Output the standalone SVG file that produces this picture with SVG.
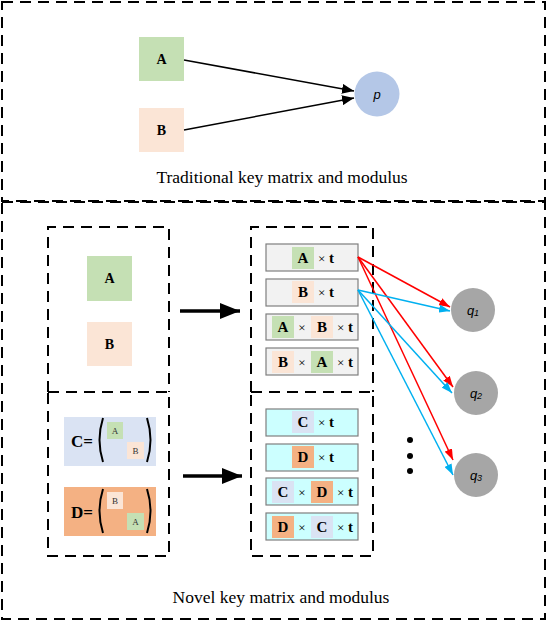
<svg xmlns="http://www.w3.org/2000/svg" width="548" height="622" viewBox="0 0 548 622">
<style>
.outer{fill:none;stroke:#000;stroke-width:2;stroke-dasharray:11,7}
.inner{fill:none;stroke:#000;stroke-width:2;stroke-dasharray:11,7}
.cap{font-family:"Liberation Serif",serif;font-size:17.5px;fill:#000;text-anchor:middle}
.lbl{font-family:"Liberation Serif",serif;font-size:15px;font-weight:bold;fill:#000;text-anchor:middle;dominant-baseline:central}
.sm{font-family:"Liberation Serif",serif;font-size:9px;fill:#333;text-anchor:middle;dominant-baseline:central}
.row{stroke:#7f7f7f;stroke-width:1.2}
.gray{fill:#f2f2f2}
.cyan{fill:#ccffff}
.ca{fill:#c5e0b4}
.cb{fill:#fbe5d6}
.cc{fill:#dae3f3}
.cd{fill:#f4b183}
.mod{font-family:"Liberation Sans",sans-serif;font-style:italic;font-size:13px;fill:#000;text-anchor:middle;dominant-baseline:central}
.sub{font-size:9px}
.blk{stroke:#000;stroke-width:1.5;fill:none}
.thick{stroke:#000;stroke-width:3.5;fill:none}
.red{stroke:#ff0000;stroke-width:1.5;fill:none}
.blue{stroke:#00b0f0;stroke-width:1.5;fill:none}
.times{font-family:"Liberation Serif",serif;font-size:13px;fill:#000;text-anchor:middle;dominant-baseline:central}
</style>
<defs>
<marker id="mBlk" viewBox="0 0 12 10" refX="12" refY="5" markerWidth="12" markerHeight="10" markerUnits="userSpaceOnUse" orient="auto"><path d="M0,0 L12,5 L0,10 Z" fill="#000"/></marker>
<marker id="mThick" viewBox="0 0 20 16" refX="20" refY="8" markerWidth="20" markerHeight="16" markerUnits="userSpaceOnUse" orient="auto"><path d="M0,0 L20,8 L0,16 Z" fill="#000"/></marker>
<marker id="mRed" viewBox="0 0 11 8" refX="11" refY="4" markerWidth="11" markerHeight="8" markerUnits="userSpaceOnUse" orient="auto"><path d="M0,0 L11,4 L0,8 Z" fill="#ff0000"/></marker>
<marker id="mBlue" viewBox="0 0 11 8" refX="11" refY="4" markerWidth="11" markerHeight="8" markerUnits="userSpaceOnUse" orient="auto"><path d="M0,0 L11,4 L0,8 Z" fill="#00b0f0"/></marker>
</defs>
<rect width="548" height="622" fill="#fff"/>

<g id="frame-traditional">
<rect class="outer" x="2" y="2" width="543" height="199"/>
<text class="cap" x="282" y="183">Traditional key matrix and modulus</text>
</g>
<g id="frame-novel">
<rect class="outer" x="2" y="202" width="543" height="417"/>
<text class="cap" x="281" y="603">Novel key matrix and modulus</text>
</g>

<g id="trad-A"><rect class="ca" x="139" y="37" width="45" height="44"/><text class="lbl" x="161.5" y="59" style="font-size:14px">A</text></g>
<g id="trad-B"><rect class="cb" x="139" y="108" width="45" height="44"/><text class="lbl" x="161.5" y="130" style="font-size:14px">B</text></g>
<g id="trad-p"><circle cx="377" cy="94" r="22.5" fill="#b4c7e7"/><text class="mod" x="377" y="94">p</text></g>

<g id="box-AB">
<path class="inner" d="M48,392 V227 H169 V392"/>
<rect class="ca" x="87" y="256" width="45" height="45"/><text class="lbl" x="109.5" y="278.5" style="font-size:14px">A</text>
<rect class="cb" x="87" y="322" width="45" height="44"/><text class="lbl" x="109.5" y="344" style="font-size:14px">B</text>
</g>
<g id="box-CD">
<rect class="inner" x="48" y="392" width="121" height="164"/>
<rect class="cc" x="64" y="417" width="92" height="49"/>
<text class="lbl" x="82" y="441" style="font-size:17px">C=</text>
<path d="M103,418 Q96,440 103,462" fill="none" stroke="#000" stroke-width="2"/>
<path d="M147,418 Q154,440 147,462" fill="none" stroke="#000" stroke-width="2"/>
<rect class="ca" x="107" y="422" width="16" height="17"/><text class="sm" x="115" y="430.5">A</text>
<rect class="cb" x="127" y="442" width="17" height="17"/><text class="sm" x="135.5" y="450.5">B</text>
<rect class="cd" x="64" y="487" width="92" height="49"/>
<text class="lbl" x="82" y="512" style="font-size:17px">D=</text>
<path d="M103,489 Q96,511 103,533" fill="none" stroke="#000" stroke-width="2"/>
<path d="M147,489 Q154,511 147,533" fill="none" stroke="#000" stroke-width="2"/>
<rect class="cb" x="107" y="492" width="16" height="17"/><text class="sm" x="115" y="500.5">B</text>
<rect class="ca" x="127" y="513" width="17" height="17"/><text class="sm" x="135.5" y="521.5">A</text>
</g>

<g id="box-ABt">
<path class="inner" d="M251,392 V227 H373 V392"/>
<g id="row-At"><rect class="row gray" x="266" y="244" width="92" height="27"/><rect class="ca" x="292" y="247" width="22" height="22"/><text class="lbl" x="303" y="258">A</text><text class="lbl" x="326" y="258"><tspan font-weight="normal" font-size="13">×</tspan> t</text></g>
<g id="row-Bt"><rect class="row gray" x="266" y="279" width="92" height="27"/><rect class="cb" x="292" y="281" width="22" height="22"/><text class="lbl" x="303" y="292">B</text><text class="lbl" x="326" y="292"><tspan font-weight="normal" font-size="13">×</tspan> t</text></g>
<g id="row-ABt"><rect class="row gray" x="266" y="314" width="92" height="26"/><rect class="ca" x="272" y="316" width="22" height="22"/><text class="lbl" x="283" y="327">A</text><text class="times" x="302" y="327">×</text><rect class="cb" x="311" y="316" width="22" height="22"/><text class="lbl" x="322" y="327">B</text><text class="lbl" x="345" y="327"><tspan font-weight="normal" font-size="13">×</tspan> t</text></g>
<g id="row-BAt"><rect class="row gray" x="266" y="348" width="92" height="27"/><rect class="cb" x="272" y="351" width="22" height="22"/><text class="lbl" x="283" y="362">B</text><text class="times" x="302" y="362">×</text><rect class="ca" x="311" y="351" width="22" height="22"/><text class="lbl" x="322" y="362">A</text><text class="lbl" x="345" y="362"><tspan font-weight="normal" font-size="13">×</tspan> t</text></g>
</g>

<g id="box-CDt">
<rect class="inner" x="251" y="392" width="122" height="164"/>
<g id="row-Ct"><rect class="row cyan" x="266" y="409" width="92" height="27"/><rect class="cc" x="292" y="411" width="22" height="22"/><text class="lbl" x="303" y="422">C</text><text class="lbl" x="326" y="422"><tspan font-weight="normal" font-size="13">×</tspan> t</text></g>
<g id="row-Dt"><rect class="row cyan" x="266" y="444" width="92" height="27"/><rect class="cd" x="292" y="446" width="22" height="22"/><text class="lbl" x="303" y="457">D</text><text class="lbl" x="326" y="457"><tspan font-weight="normal" font-size="13">×</tspan> t</text></g>
<g id="row-CDt"><rect class="row cyan" x="266" y="478" width="92" height="27"/><rect class="cc" x="272" y="481" width="22" height="22"/><text class="lbl" x="283" y="492">C</text><text class="times" x="302" y="492">×</text><rect class="cd" x="311" y="481" width="22" height="22"/><text class="lbl" x="322" y="492">D</text><text class="lbl" x="345" y="492"><tspan font-weight="normal" font-size="13">×</tspan> t</text></g>
<g id="row-DCt"><rect class="row cyan" x="266" y="513" width="92" height="27"/><rect class="cd" x="272" y="516" width="22" height="22"/><text class="lbl" x="283" y="527">D</text><text class="times" x="302" y="527">×</text><rect class="cc" x="311" y="516" width="22" height="22"/><text class="lbl" x="322" y="527">C</text><text class="lbl" x="345" y="527"><tspan font-weight="normal" font-size="13">×</tspan> t</text></g>
</g>

<g id="q1"><circle cx="473" cy="310" r="22" fill="#a6a6a6"/><text class="mod" x="473" y="310">q<tspan class="sub" dy="3">1</tspan></text></g>
<g id="q2"><circle cx="476" cy="393" r="22" fill="#a6a6a6"/><text class="mod" x="476" y="393">q<tspan class="sub" dy="3">2</tspan></text></g>
<g id="q3"><circle cx="476" cy="475" r="22" fill="#a6a6a6"/><text class="mod" x="476" y="475">q<tspan class="sub" dy="3">3</tspan></text></g>

<g id="ellipsis" fill="#000">
<circle cx="410" cy="440" r="3"/><circle cx="410" cy="456" r="3"/><circle cx="410" cy="471" r="3"/>
</g>

<g id="connectors">
<line class="blk" x1="184" y1="60" x2="354" y2="91" marker-end="url(#mBlk)"/>
<line class="blk" x1="184" y1="130" x2="354" y2="98" marker-end="url(#mBlk)"/>
<line class="thick" x1="180" y1="311" x2="240" y2="311" marker-end="url(#mThick)"/>
<line class="thick" x1="183" y1="476" x2="242" y2="476" marker-end="url(#mThick)"/>
<line class="red" x1="358" y1="257" x2="450" y2="307" marker-end="url(#mRed)"/>
<line class="red" x1="358" y1="257" x2="453" y2="387" marker-end="url(#mRed)"/>
<line class="red" x1="358" y1="257" x2="453" y2="460" marker-end="url(#mRed)"/>
<line class="blue" x1="358" y1="290" x2="450" y2="311" marker-end="url(#mBlue)"/>
<line class="blue" x1="358" y1="290" x2="452" y2="393" marker-end="url(#mBlue)"/>
<line class="blue" x1="358" y1="290" x2="453" y2="475" marker-end="url(#mBlue)"/>
</g>
</svg>
